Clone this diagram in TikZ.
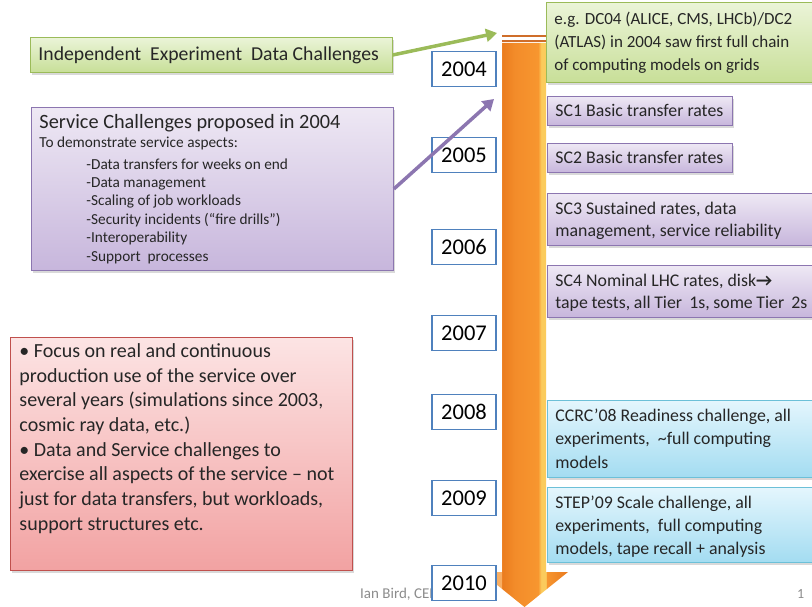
\documentclass[tikz,border=0pt]{standalone}
\usepackage{fontspec}
\setmainfont{Carlito}
\usetikzlibrary{shadows,arrows.meta}

\definecolor{txt}{HTML}{262626}
\definecolor{foot}{HTML}{8C8C8C}
\definecolor{grline}{HTML}{9BBB59}
\definecolor{grtop}{HTML}{EBF4D8}
\definecolor{grbot}{HTML}{C8DF98}
\definecolor{puline}{HTML}{8C76B0}
\definecolor{putop}{HTML}{EEE8F4}
\definecolor{pubot}{HTML}{C7B6DC}
\definecolor{reline}{HTML}{C0504D}
\definecolor{retop}{HTML}{FCE4E4}
\definecolor{rebot}{HTML}{F2A2A2}
\definecolor{blline}{HTML}{6CC0D8}
\definecolor{bltop}{HTML}{E4F6FD}
\definecolor{blbot}{HTML}{A3DCF1}
\definecolor{yrline}{HTML}{4F81BD}
\definecolor{orHead}{HTML}{F9AE62}
\definecolor{orA}{HTML}{EA7C1E}
\definecolor{orB}{HTML}{F38C2A}
\definecolor{orC}{HTML}{F7962F}
\definecolor{orD}{HTML}{FBCB5C}
\definecolor{orE}{HTML}{E97A1E}
\definecolor{stripe}{HTML}{CF6E2A}

% the arrow's bounding box spans 25bp..75bp of this shading:
% head edge, shaft (darker left, yellow rim right), head edge
\pgfdeclarehorizontalshading{shaft}{100bp}{color(0bp)=(orHead); color(36.8bp)=(orHead);
  color(37.1bp)=(orA); color(44.5bp)=(orB); color(57.8bp)=(orC); color(59.6bp)=(orD);
  color(62.3bp)=(orD); color(62.6bp)=(orC); color(75bp)=(orE); color(100bp)=(orE)}

% a top-aligned text panel: height, width, first baseline, content
\newcommand\panel[4]{\parbox[c][#1][t]{#2}{\raggedright\rule{0pt}{#3}#4}}

\tikzset{
  panelbox/.style={draw, line width=0.9pt, anchor=north west, inner ysep=0pt,
    inner xsep=8pt, text=txt,
    drop shadow={shadow xshift=2pt, shadow yshift=-2.5pt, opacity=0.3}},
  greenbox/.style={panelbox, draw=grline, top color=grtop, bottom color=grbot},
  purplebox/.style={panelbox, draw=puline, top color=putop, bottom color=pubot},
  redbox/.style={panelbox, draw=reline, top color=retop, bottom color=rebot},
  bluebox/.style={panelbox, draw=blline, top color=bltop, bottom color=blbot},
  yearbox/.style={draw=yrline, line width=1.8pt, fill=white, text=black,
    minimum width=64pt, minimum height=35pt, inner sep=0pt,
    font=\fontsize{22.5}{24}\selectfont},
  rtext/.style={font=\fontsize{17.8}{22}\selectfont},
  link/.style={line width=3.5pt, -{Triangle[length=11pt,width=13pt]}},
}

\begin{document}
\begin{tikzpicture}[x=1pt,y=-1pt]
\useasboundingbox (0,0) rectangle (812,607);

% timeline arrow
\path[shading=shaft] (502,43) -- (546,43) -- (546,572) -- (568,572)
  -- (524.5,607) -- (481,572) -- (502,572) -- cycle;
\fill[stripe] (502,35) rectangle (546,37.5);
\fill[stripe] (502,40) rectangle (546,42);

% footer
\node[anchor=base west, text=foot, font=\fontsize{15}{17}\selectfont, inner sep=0pt]
  (author) at (360,598) {Ian Bird, CERN};
\node[anchor=base west, text=foot, font=\fontsize{14}{16}\selectfont, inner sep=0pt]
  (page) at (797,598) {1};

% left-hand panels
\node[greenbox, font=\fontsize{19.7}{22}\selectfont] (idc) at (30,37)
  {\panel{35pt}{346pt}{23.4pt}{Independent\ \ Experiment\ \ Data Challenges}};

\node[purplebox, font=\fontsize{15.3}{18.4}\selectfont] (sc) at (31,107)
  {\panel{163pt}{346pt}{20.7pt}{{\fontsize{20.3}{20}\selectfont Service Challenges proposed in 2004}\\[1.3pt]
   To demonstrate service aspects:\\[2.8pt]
   \hspace*{47pt}-Data transfers for weeks on end\\
   \hspace*{47pt}-Data management\\
   \hspace*{47pt}-Scaling of job workloads\\
   \hspace*{47pt}-Security incidents (“fire drills”)\\
   \hspace*{47pt}-Interoperability\\
   \hspace*{47pt}-Support\ \ processes}};

\node[redbox, inner xsep=9pt, font=\fontsize{20}{24.7}\selectfont] (prod) at (10,337)
  {\panel{233pt}{324pt}{19.9pt}{• Focus on real and continuous\\
   production use of the service over\\
   several years (simulations since 2003,\\
   cosmic ray data, etc.)\\
   • Data and Service challenges to\\
   exercise all aspects of the service – not\\
   just for data transfers, but workloads,\\
   support structures etc.}};

% right-hand panels
\node[greenbox, font=\fontsize{17}{23}\selectfont] (dc) at (546,2)
  {\panel{80pt}{252pt}{21.7pt}{e.g. DC04 (ALICE, CMS, LHCb)/DC2\\
   (ATLAS) in 2004 saw first full chain\\
   of computing models on grids}};
\node[purplebox, rtext] (sc1) at (547,96)
  {\panel{29pt}{169pt}{19.9pt}{SC1 Basic transfer rates}};
\node[purplebox, rtext] (sc2) at (547,143)
  {\panel{29pt}{169pt}{19.9pt}{SC2 Basic transfer rates}};
\node[purplebox, rtext] (sc3) at (547,193)
  {\panel{52pt}{252pt}{20.9pt}{SC3 Sustained rates, data\\
   management, service reliability}};
\node[purplebox, rtext] (sc4) at (547,265)
  {\panel{52pt}{252pt}{20.9pt}{SC4 Nominal LHC rates, disk\textbf{→}\\
   tape tests, all Tier\ \ 1s, some Tier\ \ 2s}};
\node[bluebox, font=\fontsize{17.8}{23.5}\selectfont] (ccrc) at (547,400)
  {\panel{77pt}{252pt}{20.9pt}{CCRC’08 Readiness challenge, all\\
   experiments,\ \ \textasciitilde full computing\\
   models}};
\node[bluebox, font=\fontsize{17.8}{23}\selectfont] (step09) at (547,487)
  {\panel{75pt}{252pt}{20.9pt}{STEP’09 Scale challenge, all\\
   experiments,\ \ full computing\\
   models, tape recall + analysis}};

% year markers
\node[yearbox] (y2004) at (464,69) {2004};
\node[yearbox] (y2005) at (464,155) {2005};
\node[yearbox] (y2006) at (464,247) {2006};
\node[yearbox] (y2007) at (464,333) {2007};
\node[yearbox] (y2008) at (464,412) {2008};
\node[yearbox] (y2009) at (464,498) {2009};
\node[yearbox] (y2010) at (464,583) {2010};

% links into the start of the timeline
\coordinate (dctip) at (497,33);
\coordinate (sctip) at (494,99);
\draw[link, grline] (idc.east) -- (dctip);
\draw[link, puline] (sc.east) -- (sctip);
\end{tikzpicture}
\end{document}
